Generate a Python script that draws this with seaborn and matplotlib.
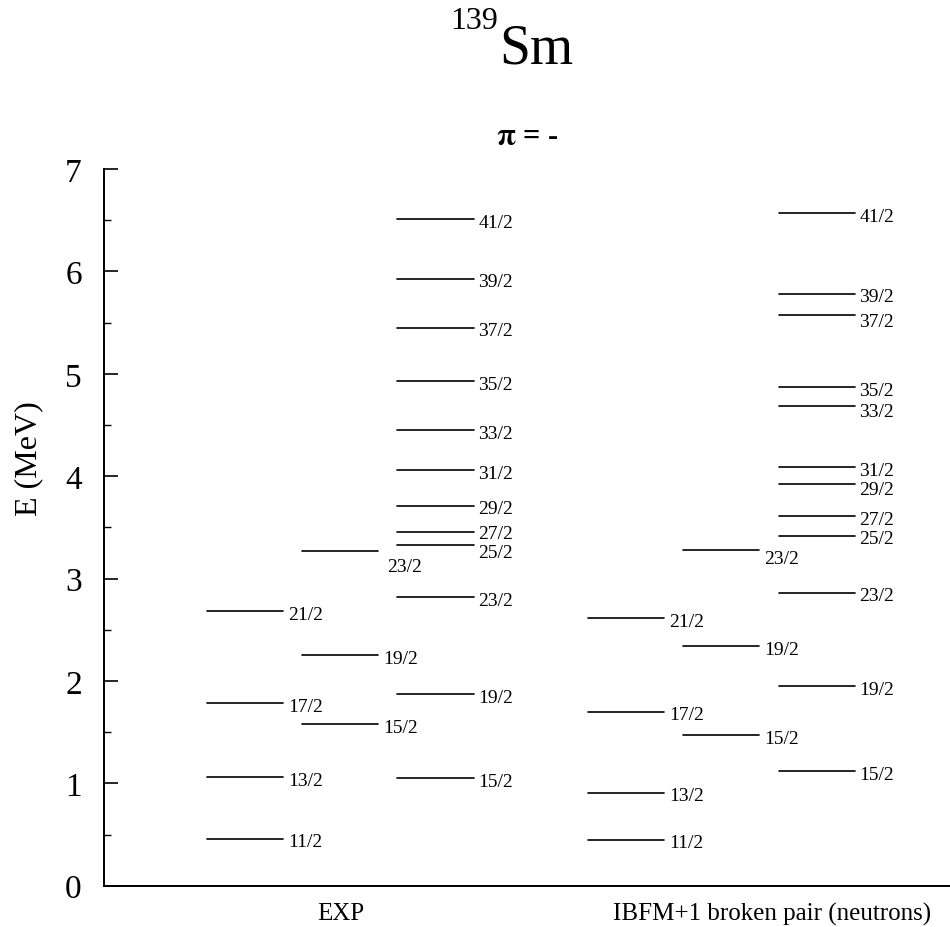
import pandas as pd
import matplotlib
matplotlib.use('Agg')
import matplotlib.pyplot as plt
from matplotlib.ticker import MultipleLocator
import seaborn as sns

exp_col1_spins = ['11/2', '13/2', '17/2', '21/2']
exp_col1_E = [0.46, 1.06, 1.78, 2.68]
exp_col2_spins = ['15/2', '19/2', '23/2']
exp_col2_E = [1.58, 2.25, 3.27]
exp_col3_spins = ['15/2', '19/2', '23/2', '25/2', '27/2', '29/2', '31/2',
                  '33/2', '35/2', '37/2', '39/2', '41/2']
exp_col3_E = [1.05, 1.87, 2.82, 3.33, 3.45, 3.71, 4.06, 4.45, 4.93, 5.45, 5.93, 6.51]

th_col1_spins = ['11/2', '13/2', '17/2', '21/2']
th_col1_E = [0.45, 0.91, 1.70, 2.61]
th_col2_spins = ['15/2', '19/2', '23/2']
th_col2_E = [1.47, 2.34, 3.28]
th_col3_spins = ['15/2', '19/2', '23/2', '25/2', '27/2', '29/2', '31/2',
                 '33/2', '35/2', '37/2', '39/2', '41/2']
th_col3_E = [1.12, 1.95, 2.86, 3.42, 3.61, 3.92, 4.09, 4.69, 4.87, 5.57, 5.78, 6.57]

group_labels = ['EXP', 'IBFM+1 broken pair (neutrons)']

# column slot -> (spins, energies)
columns = {
    0: (exp_col1_spins, exp_col1_E),
    1: (exp_col2_spins, exp_col2_E),
    2: (exp_col3_spins, exp_col3_E),
    4: (th_col1_spins, th_col1_E),
    5: (th_col2_spins, th_col2_E),
    6: (th_col3_spins, th_col3_E),
}

# small label nudges (dx, dy) where the original moved a label off its level
nudges = {
    (1, '23/2'): (0.04, -0.12),
    (2, '25/2'): (0.0, -0.05),
    (2, '27/2'): (0.0, 0.02),
    (5, '23/2'): (0.0, -0.05),
    (6, '37/2'): (0.0, -0.03),
    (6, '33/2'): (0.0, -0.03),
    (6, '29/2'): (0.0, -0.02),
}

LEVEL_W = 0.80

rows = []
for slot, (spins, energies) in columns.items():
    for spin, e in zip(spins, energies):
        lid = f'{slot}_{spin}'
        rows.append({'level': lid, 'x': slot, 'E': e})
        rows.append({'level': lid, 'x': slot + LEVEL_W, 'E': e})
df = pd.DataFrame(rows)

sns.set_theme(style='ticks')
plt.rcParams['font.family'] = ['Liberation Serif', 'DejaVu Serif']
plt.rcParams['mathtext.fontset'] = 'stix'
plt.rcParams['text.color'] = 'black'
plt.rcParams['xtick.color'] = 'black'
plt.rcParams['ytick.color'] = 'black'
plt.rcParams['axes.edgecolor'] = 'black'

fig = plt.figure(figsize=(9.5, 9.28), dpi=100)
ax = fig.add_axes([0.1095, 0.0445, 0.8905, 0.7723])

sns.lineplot(data=df, x='x', y='E', units='level', estimator=None,
             color='black', linewidth=1.2, ax=ax, legend=False)

for slot, (spins, energies) in columns.items():
    for spin, e in zip(spins, energies):
        dx, dy = nudges.get((slot, spin), (0.0, 0.0))
        ax.text(slot + LEVEL_W + 0.05 + dx, e - 0.03 + dy, spin,
                ha='left', va='center', fontsize=14, color='black')

ax.set_xlim(-1.08, 7.80)
ax.set_ylim(0, 7)
ax.yaxis.set_major_locator(MultipleLocator(1))
ax.yaxis.set_minor_locator(MultipleLocator(0.5))
ax.tick_params(axis='y', which='major', direction='in', length=10, width=1.2,
               labelsize=24, pad=16, colors='black')
ax.tick_params(axis='y', which='minor', direction='in', length=5, width=1.0,
               colors='black')
ax.set_xticks([1.40, 5.93])
ax.set_xticklabels(group_labels)
ax.tick_params(axis='x', length=0, labelsize=18, pad=12, colors='black')
ax.set_xlabel('')
ax.set_ylabel('')
for s in ['top', 'right']:
    ax.spines[s].set_visible(False)
for s in ['left', 'bottom']:
    ax.spines[s].set_linewidth(1.4)
    ax.spines[s].set_color('black')

fig.text(0.030, 0.506, 'E (MeV)', rotation=90, ha='center', va='center',
         fontsize=23, color='black')
fig.text(0.474, 1 - 29 / 928, '139', ha='left', va='baseline', fontsize=23,
         color='black')
fig.text(0.526, 1 - 63 / 928, 'Sm', ha='left', va='baseline', fontsize=40,
         color='black')
fig.text(0.555, 0.852, r'$\mathbf{\pi}$ = -', ha='center', va='center',
         fontsize=22, fontweight='bold', color='black')

fig.savefig('out.png', dpi=100)
